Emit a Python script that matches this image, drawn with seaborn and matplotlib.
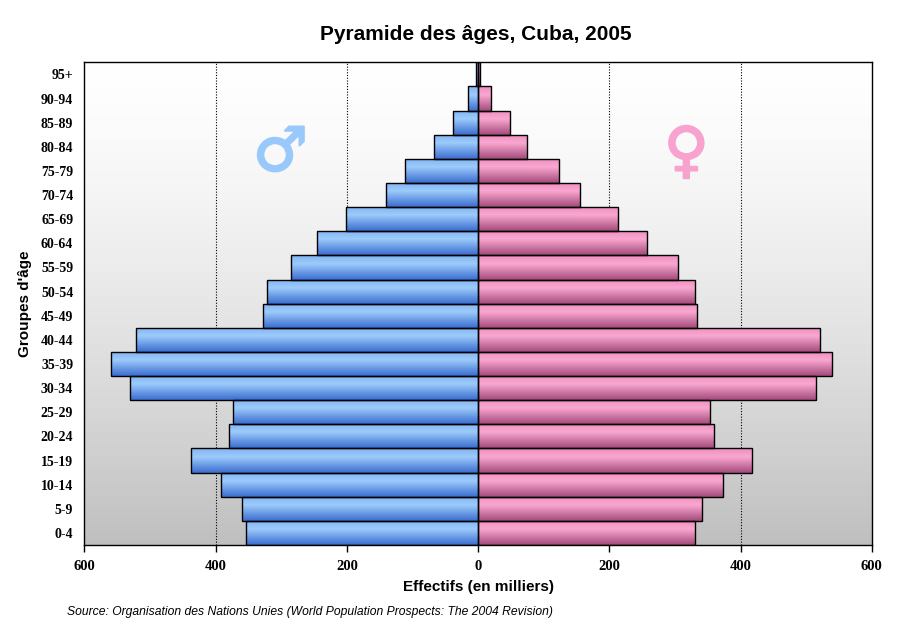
import numpy as np
import pandas as pd
import seaborn as sns
import matplotlib.pyplot as plt
import matplotlib.patheffects as pe
from matplotlib.colors import to_rgb

# age groups, top to bottom
age_groups = ["95+", "90-94", "85-89", "80-84", "75-79", "70-74", "65-69", "60-64",
              "55-59", "50-54", "45-49", "40-44", "35-39", "30-34", "25-29", "20-24",
              "15-19", "10-14", "5-9", "0-4"]
# thousands
males = [2.5, 15, 38, 67, 111, 140, 201, 246, 285, 321, 327, 522, 559, 531,
         374, 379, 437, 392, 359, 353]
females = [2.5, 20, 49, 75, 124, 156, 214, 257, 305, 331, 334, 521, 540, 515,
           354, 359, 418, 374, 342, 331]
xticks = [-600, -400, -200, 0, 200, 400, 600]

df = pd.concat([
    pd.DataFrame({"age": age_groups, "value": [-v for v in males], "sex": "Hommes"}),
    pd.DataFrame({"age": age_groups, "value": females, "sex": "Femmes"}),
], ignore_index=True)

sns.set_style("white")
plt.rcParams["font.family"] = ["Liberation Sans", "DejaVu Sans"]
plt.rcParams["text.color"] = "black"
plt.rcParams["axes.labelcolor"] = "black"
plt.rcParams["xtick.color"] = "black"
plt.rcParams["ytick.color"] = "black"

fig = plt.figure(figsize=(9.02, 6.25), dpi=100)
ax = fig.add_axes([0.0935, 0.128, 0.873, 0.7723])

sns.barplot(data=df, x="value", y="age", hue="sex", order=age_groups,
            hue_order=["Hommes", "Femmes"], dodge=False, width=1.0,
            palette=["#6fa6ec", "#e67fb2"], edgecolor="black", linewidth=1.0,
            orient="h", legend=False, ax=ax, zorder=3)

ax.set_xlim(-600, 600)
ax.set_ylim(len(age_groups) - 0.5, -0.5)

# background gradient, white at top to grey at bottom
t = np.linspace(0, 1, 256)
shade = 1 - 0.25 * t ** 1.4
bg = np.dstack([shade, shade, shade]).reshape(256, 1, 3)
ax.imshow(bg, extent=(0, 1, 0, 1), transform=ax.transAxes, aspect="auto",
          origin="upper", zorder=0)


def gradient(top, mid, bottom, n=64):
    top, mid, bottom = map(np.array, (to_rgb(top), to_rgb(mid), to_rgb(bottom)))
    s = np.linspace(0, 1, n)[:, None]
    first = top + (mid - top) * np.clip(s / 0.35, 0, 1)
    second = mid + (bottom - mid) * np.clip((s - 0.35) / 0.65, 0, 1)
    g = np.where(s < 0.35, first, second)
    return g.reshape(n, 1, 3)


blue = gradient("#7fb4f2", "#9dcbfb", "#3a6dd0")
pink = gradient("#f08cbf", "#f9a8d1", "#a44a7b")

for patch in ax.patches:
    x0, y0 = patch.get_x(), patch.get_y()
    w, h = patch.get_width(), patch.get_height()
    grad = blue if x0 + w <= 0 else pink
    im = ax.imshow(grad, extent=(min(x0, x0 + w), max(x0, x0 + w), y0 + h, y0),
                   origin="upper", aspect="auto", zorder=2.5, interpolation="bilinear")
    im.set_clip_path(patch)
    patch.set_facecolor("none")

ax.set_xlim(-600, 600)
ax.set_ylim(len(age_groups) - 0.5, -0.5)

for gx in [-400, -200, 200, 400]:
    ax.axvline(gx, color="black", linestyle=(0, (1, 1.5)), linewidth=0.8, zorder=1)

ax.set_xticks(xticks)
ax.set_xticklabels([str(abs(v)) for v in xticks], fontfamily="Liberation Serif",
                   fontweight="bold", fontsize=10.5)
for lab in ax.get_yticklabels():
    lab.set_fontfamily("Liberation Serif")
    lab.set_fontweight("bold")
    lab.set_fontsize(10)
ax.tick_params(axis="x", length=5, width=1, color="black", direction="out",
               bottom=True, pad=6)
ax.tick_params(axis="y", length=0, pad=8)

for sp in ax.spines.values():
    sp.set_color("black")
    sp.set_linewidth(1)

ax.set_xlabel("Effectifs (en milliers)", fontsize=11, fontweight="bold", labelpad=5)
ax.set_ylabel("Groupes d'âge", fontsize=11, fontweight="bold")
ax.yaxis.set_label_coords(-0.067, 0.5)

fig.suptitle("Pyramide des âges, Cuba, 2005", x=0.527, y=0.96, fontsize=15,
             fontweight="bold")

for xs, sym, col in [(0.249, "♂", "#99c9fb"), (0.7645, "♀", "#f8a2ce")]:
    ax.text(xs, 0.81, sym, transform=ax.transAxes, fontsize=44, color=col,
            ha="center", va="center", family=["DejaVu Sans"], zorder=4,
            path_effects=[pe.withStroke(linewidth=1.5, foreground=col)])

fig.text(0.074, 0.016, "Source: Organisation des Nations Unies (World Population "
         "Prospects: The 2004 Revision)", fontsize=8.75, fontstyle="italic")

fig.savefig("out.png", dpi=100)
